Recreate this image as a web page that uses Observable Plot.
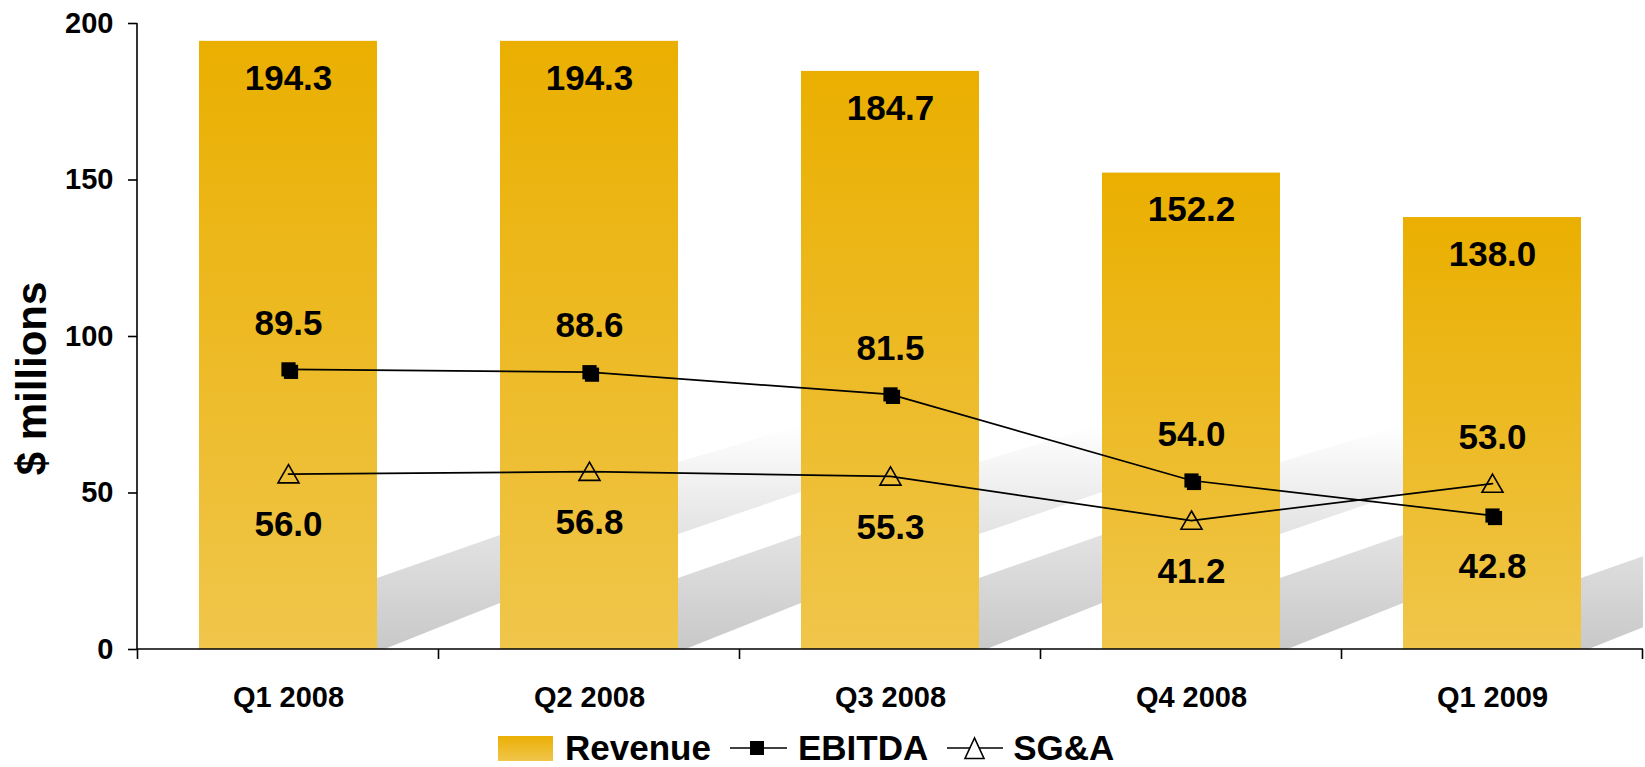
<!DOCTYPE html>
<html>
<head>
<meta charset="utf-8">
<script src="https://cdn.jsdelivr.net/npm/d3@7"></script>
<script src="https://cdn.jsdelivr.net/npm/@observablehq/plot@0.6"></script>
<style>
  html, body { margin: 0; padding: 0; background: #fff; overflow: hidden; }
  #wrap { position: relative; width: 1645px; height: 767px; font-family: "Liberation Sans", Arial, Helvetica, sans-serif; font-weight: bold; color: #000; }
  #legend { position: absolute; left: 498px; top: 726px; height: 44px; display: flex; align-items: center; font-size: 35px; white-space: nowrap; }
  #legend .sw { display: block; width: 55px; height: 25px; background: linear-gradient(#EBAF05, #F0C64B); margin-right: 12px; }
  #legend svg { display: block; }
</style>
</head>
<body>
<div id="wrap">
  <div id="chart"></div>
  <div id="legend"></div>
</div>
<script>
// ---- data ----
const quarters = ["Q1 2008", "Q2 2008", "Q3 2008", "Q4 2008", "Q1 2009"];
const revenue = [194.3, 194.3, 184.7, 152.2, 138.0];
const ebitda  = [89.5, 88.6, 81.5, 54.0, 42.8];
const sga     = [56.0, 56.8, 55.3, 41.2, 53.0];
const yTicks  = [0, 50, 100, 150, 200];
const seriesNames = ["Revenue", "EBITDA", "SG&A"];
const yTitle = "$ millions";
// decorative background: gaps showing the upper light stripe
const lightStripeAfter = ["Q2 2008", "Q3 2008", "Q4 2008"];

const rows = quarters.map((q, i) => ({q, revenue: revenue[i], ebitda: ebitda[i], sga: sga[i]}));
const fmt = d3.format(".1f");
const FONT = '"Liberation Sans", Arial, Helvetica, sans-serif';

// defs + decorative stripes behind bars
function decor(index, scales, values, dims) {
  const x = scales.x, y = scales.y;
  const bw = x.bandwidth(), step = x.step(), gap = step - bw;
  const y0 = y(0);
  const left = dims.marginLeft, right = dims.width - dims.marginRight;
  const g = d3.create("svg:g");
  const defs = g.append("defs");
  const lg = (id, stops) => {
    const el = defs.append("linearGradient").attr("id", id)
      .attr("x1", 0).attr("y1", 0).attr("x2", 0).attr("y2", 1);
    stops.forEach(([o, c]) => el.append("stop").attr("offset", o).attr("stop-color", c));
  };
  lg("revGrad", [[0, "#EAAF00"], [1, "#F0C64B"]]);
  lg("darkGrad", [[0, "#e2e2e2"], [1, "#c8c8c8"]]);
  lg("lightGrad", [[0, "#ffffff"], [1, "#e3e3e3"]]);
  defs.append("clipPath").attr("id", "frameClip").append("rect")
    .attr("x", left).attr("y", dims.marginTop)
    .attr("width", right - left).attr("height", y0 - dims.marginTop);
  const deco = g.append("g").attr("clip-path", "url(#frameClip)");
  for (const q of quarters) {
    const gx0 = x(q) + bw, gx1 = gx0 + gap;
    deco.append("polygon")
      .attr("points", [[gx0, y0 - 71], [gx1, y0 - 114], [gx1, y0 - 46], [gx0, y0 + 3]].map(p => p.join(",")).join(" "))
      .attr("fill", "url(#darkGrad)");
    if (lightStripeAfter.includes(q)) {
      deco.append("polygon")
        .attr("points", [[gx0, y0 - 187], [gx1, y0 - 224], [gx1, y0 - 157], [gx0, y0 - 115]].map(p => p.join(",")).join(" "))
        .attr("fill", "url(#lightGrad)");
    }
  }
  return g.node();
}

// axis lines and category-boundary ticks
function axisLines(index, scales, values, dims) {
  const x = scales.x, y = scales.y;
  const bw = x.bandwidth(), step = x.step(), gap = step - bw;
  const y0 = y(0), yTop = y(200);
  const left = dims.marginLeft, right = dims.width - dims.marginRight;
  const g = d3.create("svg:g").attr("stroke", "black").attr("stroke-width", 1.6).attr("fill", "none");
  g.append("line").attr("x1", left).attr("x2", right).attr("y1", y0).attr("y2", y0);
  g.append("line").attr("x1", left).attr("x2", left).attr("y1", yTop).attr("y2", y0);
  const bounds = [x(quarters[0]) - gap / 2, ...quarters.map(q => x(q) + bw + gap / 2)];
  for (const bx of bounds) {
    const px = Math.min(Math.max(bx, left), right);
    g.append("line").attr("x1", px).attr("x2", px).attr("y1", y0).attr("y2", y0 + 10);
  }
  return g.node();
}

const chart = Plot.plot({
  width: 1645,
  height: 722,
  marginLeft: 137,
  marginRight: 2,
  marginTop: 23,
  marginBottom: 73,
  style: { fontFamily: FONT, fontWeight: "bold", background: "transparent", color: "black", overflow: "visible" },
  x: { domain: quarters, paddingInner: 0.41, paddingOuter: 0.205, axis: null },
  y: { domain: [0, 200] },
  marks: [
    decor,
    Plot.barY(rows, { x: "q", y: "revenue", fill: "url(#revGrad)" }),
    axisLines,
    Plot.axisY({ ticks: yTicks, tickSize: 9, tickPadding: 15, fontSize: 29, strokeWidth: 1.6, label: null }),
    Plot.text([yTitle], { frameAnchor: "left", textAnchor: "middle", lineAnchor: "middle", rotate: -90, dx: -105, dy: 42, fontSize: 42 }),
    Plot.text(quarters, { x: d => d, frameAnchor: "bottom", lineAnchor: "middle", dy: 48.5, fontSize: 29 }),
    Plot.line(rows, { x: "q", y: "ebitda", stroke: "black", strokeWidth: 1.7 }),
    Plot.line(rows, { x: "q", y: "sga", stroke: "black", strokeWidth: 1.7 }),
    Plot.dot(rows, { x: "q", y: "ebitda", symbol: "square", r: 8, fill: "black", dx: 2.5, dy: 2.5 }),
    Plot.dot(rows, { x: "q", y: "ebitda", symbol: "square", r: 8, fill: "black" }),
    Plot.dot(rows, { x: "q", y: "sga", symbol: "triangle", r: 7.8, fill: "none", stroke: "black", strokeWidth: 1.6, dy: 2.6 }),
    Plot.text(rows, { x: "q", y: "revenue", text: d => fmt(d.revenue), dy: 37, fontSize: 35 }),
    Plot.text(rows, { filter: d => d.ebitda >= d.sga, x: "q", y: "ebitda", text: d => fmt(d.ebitda), dy: -46, fontSize: 35 }),
    Plot.text(rows, { filter: d => d.ebitda < d.sga, x: "q", y: "ebitda", text: d => fmt(d.ebitda), dy: 51, fontSize: 35 }),
    Plot.text(rows, { filter: d => d.sga > d.ebitda, x: "q", y: "sga", text: d => fmt(d.sga), dy: -46, fontSize: 35 }),
    Plot.text(rows, { filter: d => d.sga <= d.ebitda, x: "q", y: "sga", text: d => fmt(d.sga), dy: 51, fontSize: 35 })
  ]
});
document.getElementById("chart").appendChild(chart);

// ---- legend ----
const legend = d3.select("#legend");
legend.append("span").attr("class", "sw");
legend.append("span").text(seriesNames[0]);
const s1 = legend.append("svg").attr("width", 57).attr("height", 24).style("margin", "0 11px 0 19px");
s1.append("line").attr("x1", 0).attr("x2", 57).attr("y1", 12).attr("y2", 12).attr("stroke", "black").attr("stroke-width", 1.6);
s1.append("rect").attr("x", 20).attr("y", 5).attr("width", 14).attr("height", 14).attr("fill", "black");
legend.append("span").text(seriesNames[1]);
const s2 = legend.append("svg").attr("width", 56).attr("height", 24).style("margin", "0 10px 0 19px");
s2.append("line").attr("x1", 0).attr("x2", 56).attr("y1", 12).attr("y2", 12).attr("stroke", "black").attr("stroke-width", 1.6);
s2.append("polygon").attr("points", "27.5,2 18,22.5 37,22.5").attr("fill", "white").attr("stroke", "black").attr("stroke-width", 1.6);
legend.append("span").text(seriesNames[2]);
</script>
</body>
</html>
